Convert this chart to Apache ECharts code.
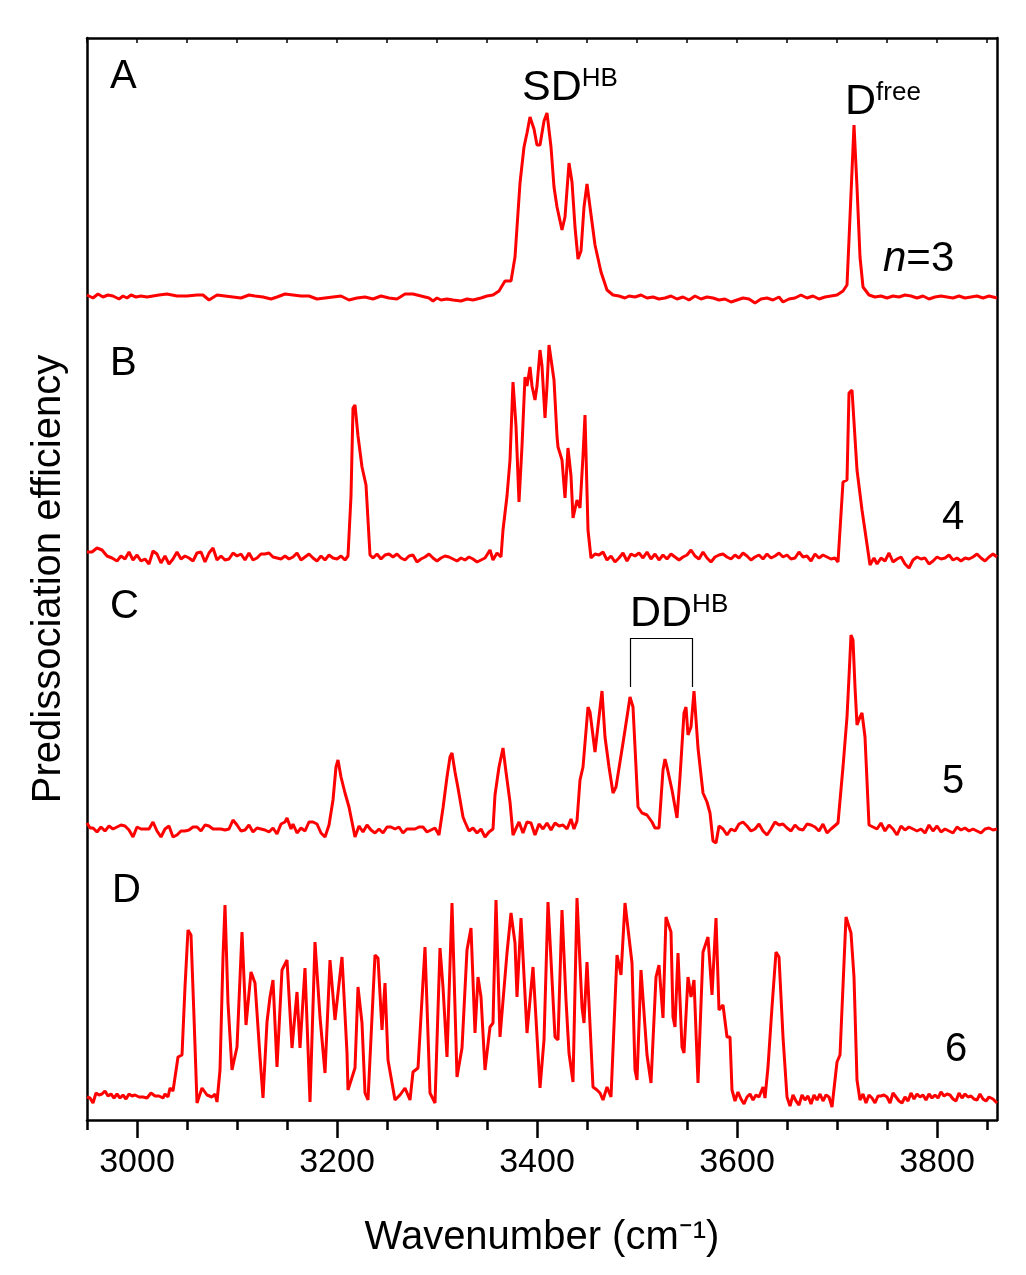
<!DOCTYPE html>
<html>
<head>
<meta charset="utf-8">
<title>Predissociation spectra</title>
<script src="https://cdn.jsdelivr.net/npm/echarts@6/dist/echarts.min.js"></script>
<style>
  body { margin: 0; background: #fff; }
  #main { width: 1026px; height: 1275px; }
</style>
</head>
<body>
<div id="main"></div>
<script>
// [wavenumber, height above own baseline]
var traceA = [
  [2950,2],[2956,-1],[2961,3],[2966,0],[2971,2],[2976,1],[2982,-2],[2986,1],[2990,-1],[2994,2],[2999,0],[3004,1],
  [3010,0],[3016,1],[3022,2],[3030,3],[3040,1],[3050,1],[3060,2],[3066,2],[3072,-3],[3080,2],[3088,1],[3096,0],
  [3104,-1],[3112,2],[3118,1],[3126,0],[3134,-2],[3140,0],[3148,3],[3156,2],[3164,1],[3172,1],[3180,-2],[3188,-1],
  [3196,0],[3204,1],[3212,-3],[3220,-1],[3228,0],[3236,-2],[3244,1],[3252,-1],[3260,-2],[3268,3],[3276,3],[3284,1],
  [3292,-1],[3296,-4],[3300,-1],[3304,-3],[3310,-2],[3316,-3],[3324,-4],[3330,-2],[3336,-3],[3344,-1],[3350,1],
  [3356,2],[3362,6],[3368,16],[3374,16],[3378,40],[3383,114],[3387,150],[3390,164],[3393,180],[3397,168],[3400,152],
  [3403,152],[3407,176],[3410,184],[3414,150],[3417,110],[3420,90],[3425,67],[3428,80],[3432,134],[3435,115],[3438,70],
  [3441,38],[3444,46],[3447,90],[3450,113],[3453,90],[3458,52],[3464,25],[3470,7],[3476,2],[3482,1],[3488,-1],
  [3492,1],[3498,0],[3504,2],[3510,-1],[3516,0],[3522,-2],[3528,-1],[3534,1],[3540,-2],[3546,0],[3552,-3],[3558,1],
  [3564,-2],[3570,0],[3576,-1],[3582,-3],[3588,-2],[3594,-5],[3600,-3],[3606,-1],[3612,-2],[3618,-6],[3624,-2],
  [3630,-1],[3636,-3],[3642,0],[3646,-5],[3652,-2],[3658,-1],[3664,2],[3670,-1],[3676,1],[3682,-2],[3688,0],
  [3694,1],[3700,2],[3706,6],[3710,12],[3713,80],[3717,172],[3720,110],[3723,40],[3726,10],[3732,2],[3738,0],
  [3744,1],[3750,-1],[3756,1],[3762,0],[3768,2],[3774,1],[3780,-1],[3786,1],[3792,-2],[3798,0],[3804,1],[3810,0],
  [3816,-1],[3822,1],[3828,-1],[3834,0],[3840,1],[3846,-1],[3852,1],[3860,-1]
];
var traceB = [
  [2950,4],[2955,4],[2960,8],[2965,6],[2970,0],[2975,-2],[2980,-5],[2984,0],[2988,-3],[2992,4],[2996,-4],[3000,1],
  [3004,-5],[3008,-3],[3012,-8],[3016,5],[3020,2],[3024,-7],[3028,0],[3032,-8],[3036,-3],[3040,4],[3044,-3],
  [3048,0],[3052,-2],[3056,-5],[3060,3],[3064,4],[3068,-6],[3072,3],[3076,8],[3080,-4],[3084,0],[3088,-4],
  [3092,-3],[3096,3],[3100,0],[3104,2],[3108,-4],[3112,3],[3116,-4],[3120,-2],[3124,2],[3128,2],[3132,3],
  [3136,-1],[3140,-2],[3144,-3],[3148,0],[3152,-3],[3156,-1],[3160,3],[3164,-4],[3168,-1],[3172,2],[3176,-2],
  [3180,-5],[3184,0],[3188,-4],[3192,1],[3196,-2],[3200,-3],[3204,0],[3208,-4],[3211,0],[3214,60],[3216,148],
  [3218,151],[3221,120],[3225,89],[3229,71],[3233,1],[3236,-2],[3240,2],[3244,-3],[3248,1],[3252,2],[3256,-1],
  [3260,2],[3264,-2],[3268,-4],[3272,0],[3276,1],[3280,-6],[3284,-3],[3288,-1],[3292,2],[3296,-2],[3300,-5],
  [3304,-2],[3308,0],[3312,-1],[3316,-3],[3320,-5],[3324,-2],[3328,-4],[3332,-1],[3336,-3],[3340,-6],[3344,-4],
  [3348,-2],[3353,6],[3356,-4],[3360,3],[3364,-1],[3366,26],[3370,60],[3373,96],[3376,174],[3379,130],[3382,54],
  [3385,110],[3388,179],[3390,170],[3393,189],[3395,170],[3398,156],[3400,170],[3403,206],[3405,190],[3408,138],
  [3410,170],[3412,211],[3415,190],[3417,176],[3420,120],[3421,109],[3425,96],[3428,58],[3431,108],[3434,80],
  [3436,38],[3440,56],[3443,48],[3446,100],[3448,141],[3451,26],[3454,-2],[3458,2],[3462,1],[3466,4],[3470,-4],
  [3474,0],[3478,-6],[3482,-2],[3486,3],[3490,-5],[3494,2],[3498,0],[3502,3],[3506,-2],[3510,4],[3514,-3],
  [3518,2],[3522,-4],[3526,1],[3530,-3],[3534,2],[3538,-1],[3542,-4],[3546,-1],[3550,1],[3554,6],[3558,0],
  [3562,-3],[3566,4],[3570,-2],[3574,-6],[3578,-1],[3582,1],[3586,2],[3590,-1],[3594,-3],[3598,1],[3602,-2],
  [3606,3],[3610,0],[3614,-4],[3618,-1],[3622,1],[3626,-3],[3630,2],[3634,-2],[3638,0],[3642,3],[3646,-1],
  [3650,1],[3654,-3],[3658,-2],[3662,4],[3666,-1],[3670,0],[3674,-5],[3678,2],[3682,-2],[3686,1],[3690,-1],
  [3694,-3],[3698,-2],[3701,-6],[3706,74],[3710,76],[3712,163],[3715,166],[3720,86],[3725,46],[3733,-9],
  [3737,-2],[3740,-8],[3744,-2],[3748,-5],[3752,3],[3756,-6],[3760,-3],[3764,-1],[3768,-8],[3772,-12],[3776,-4],
  [3780,-1],[3784,-3],[3788,-2],[3792,-8],[3796,-5],[3800,-1],[3804,-3],[3808,-2],[3812,1],[3816,-4],[3820,-2],
  [3824,-5],[3828,-2],[3832,-3],[3836,-1],[3840,2],[3844,-2],[3848,-5],[3852,-1],[3856,2],[3860,-1]
];
var traceC = [
  [2950,4],[2953,-1],[2956,-1],[2960,-5],[2964,0],[2968,-4],[2972,1],[2976,-2],[2980,0],[2984,2],[2988,1],[2992,-3],
  [2996,-10],[3000,0],[3004,-2],[3008,-2],[3012,-2],[3016,5],[3020,-4],[3024,-10],[3028,-2],[3032,1],[3036,-10],
  [3040,-8],[3044,-4],[3048,-4],[3052,-3],[3056,0],[3060,0],[3064,-4],[3068,2],[3072,1],[3076,-2],[3080,-2],
  [3084,-2],[3088,-3],[3092,-2],[3096,7],[3100,2],[3104,-4],[3108,-3],[3112,2],[3116,-5],[3120,-1],[3124,-2],
  [3128,-3],[3132,-5],[3136,-1],[3140,-7],[3144,3],[3148,5],[3150,9],[3154,-2],[3156,3],[3160,-6],[3164,-1],
  [3168,-4],[3172,5],[3176,5],[3180,3],[3184,-6],[3188,-10],[3192,2],[3196,27],[3199,60],[3201,67],[3204,50],
  [3208,34],[3212,20],[3215,5],[3218,-10],[3222,1],[3226,-5],[3230,2],[3234,-3],[3238,-6],[3242,-2],[3246,-6],
  [3250,0],[3254,0],[3258,-2],[3262,0],[3266,-6],[3270,-2],[3274,-2],[3278,-2],[3282,0],[3286,0],[3290,-5],
  [3294,-3],[3298,-1],[3302,-8],[3306,19],[3310,50],[3313,70],[3315,74],[3318,55],[3321,39],[3326,10],[3328,5],
  [3332,-4],[3336,-1],[3340,-6],[3344,-2],[3348,-10],[3352,-5],[3356,-2],[3358,32],[3362,60],[3366,79],
  [3369,55],[3373,25],[3376,-8],[3378,-8],[3382,5],[3386,-6],[3390,5],[3394,4],[3398,-8],[3402,3],[3406,-2],
  [3410,4],[3414,-3],[3418,4],[3422,1],[3426,2],[3430,-2],[3434,8],[3437,-2],[3440,6],[3443,47],[3446,60],
  [3451,120],[3453,115],[3458,75],[3462,110],[3465,136],[3468,90],[3472,60],[3476,34],[3479,40],[3486,84],
  [3490,110],[3493,130],[3496,120],[3501,20],[3505,14],[3510,12],[3515,5],[3518,-1],[3522,-1],[3526,57],
  [3528,68],[3530,60],[3535,37],[3540,9],[3543,50],[3547,114],[3549,120],[3551,92],[3554,100],[3557,136],
  [3561,79],[3566,34],[3570,25],[3573,14],[3576,-14],[3579,-16],[3582,1],[3586,-2],[3590,-8],[3594,-2],
  [3598,-4],[3602,3],[3606,5],[3610,1],[3614,-4],[3618,-2],[3622,3],[3626,-4],[3630,-8],[3634,-2],[3638,5],
  [3642,2],[3646,3],[3650,-1],[3654,-4],[3658,2],[3662,-2],[3666,-3],[3670,3],[3674,2],[3678,0],[3682,-4],
  [3686,3],[3690,-6],[3694,-2],[3701,4],[3706,60],[3710,110],[3712,150],[3714,192],[3716,187],[3718,140],
  [3720,102],[3723,110],[3725,114],[3728,90],[3732,2],[3736,0],[3740,-2],[3744,4],[3748,-4],[3752,2],[3756,-2],
  [3760,-8],[3764,1],[3768,-3],[3772,0],[3776,-2],[3780,-4],[3784,-2],[3788,-6],[3792,2],[3796,-4],[3800,1],
  [3804,-5],[3808,-2],[3812,-4],[3816,-6],[3820,0],[3824,-3],[3828,-1],[3832,-4],[3836,-2],[3840,-4],[3844,-6],
  [3848,-2],[3852,-1],[3856,-3],[3860,-2]
];
var traceD = [
  [2950,0],[2953,-1],[2956,-6],[2959,4],[2962,2],[2965,3],[2968,6],[2971,1],[2974,3],[2977,-1],[2980,3],[2983,-1],
  [2986,2],[2989,-2],[2992,3],[2995,1],[2998,2],[3002,0],[3006,0],[3010,-1],[3014,4],[3018,1],[3022,1],[3026,-1],
  [3028,3],[3031,0],[3033,9],[3036,6],[3041,40],[3045,42],[3048,110],[3051,167],[3054,162],[3057,80],[3060,-6],
  [3065,9],[3070,2],[3075,0],[3078,3],[3080,-5],[3083,27],[3086,140],[3088,192],[3091,94],[3095,27],[3100,50],
  [3105,165],[3109,72],[3114,125],[3118,114],[3120,114],[3123,40],[3126,-1],[3130,75],[3133,100],[3136,117],
  [3140,30],[3145,127],[3147,127],[3150,137],[3155,49],[3160,105],[3163,49],[3168,129],[3173,-5],[3178,155],
  [3183,80],[3188,24],[3193,137],[3195,138],[3198,77],[3205,140],[3210,44],[3211,7],[3218,29],[3221,110],
  [3225,74],[3228,4],[3231,-3],[3238,142],[3241,139],[3245,67],[3248,114],[3251,37],[3258,-3],[3263,2],
  [3268,9],[3273,-3],[3276,25],[3281,29],[3288,150],[3293,4],[3298,-6],[3303,149],[3306,110],[3310,40],
  [3315,194],[3320,20],[3325,49],[3330,147],[3334,169],[3338,64],[3341,120],[3344,100],[3348,27],[3353,70],
  [3356,74],[3359,197],[3363,60],[3370,144],[3374,184],[3378,154],[3380,100],[3384,179],[3390,64],[3396,130],
  [3403,9],[3407,57],[3411,195],[3418,60],[3421,57],[3425,187],[3429,97],[3432,44],[3436,15],[3440,199],
  [3445,90],[3447,74],[3450,135],[3456,10],[3460,7],[3463,4],[3466,-3],[3470,10],[3474,0],[3480,142],[3484,122],
  [3488,194],[3495,134],[3498,27],[3500,17],[3504,127],[3510,42],[3514,14],[3519,120],[3522,132],[3526,79],
  [3529,180],[3534,165],[3536,80],[3538,70],[3541,144],[3545,50],[3547,44],[3551,120],[3554,100],[3557,117],
  [3561,14],[3566,145],[3571,160],[3575,102],[3579,179],[3582,87],[3586,92],[3590,60],[3593,60],[3595,7],
  [3598,-4],[3601,5],[3604,-2],[3607,-7],[3610,0],[3613,3],[3616,-3],[3619,2],[3622,0],[3626,10],[3628,-1],
  [3631,30],[3635,90],[3639,145],[3642,140],[3646,60],[3650,0],[3653,-9],[3656,2],[3659,-4],[3662,-8],[3665,2],
  [3668,-3],[3671,1],[3674,-7],[3677,2],[3680,-3],[3683,3],[3686,-4],[3689,2],[3692,0],[3695,-10],[3700,35],
  [3703,42],[3709,180],[3714,164],[3717,120],[3720,17],[3723,-3],[3726,3],[3729,-6],[3732,2],[3735,-1],
  [3738,-6],[3741,1],[3744,1],[3747,2],[3750,0],[3753,-6],[3756,4],[3759,0],[3762,-4],[3765,-6],[3768,0],
  [3771,-4],[3774,4],[3777,-2],[3780,3],[3783,0],[3786,2],[3789,-3],[3792,3],[3795,-1],[3798,2],[3801,-1],
  [3804,5],[3807,1],[3810,3],[3813,2],[3816,-2],[3819,-4],[3822,4],[3825,-1],[3828,3],[3831,0],[3834,1],
  [3837,-2],[3840,-3],[3843,3],[3846,-2],[3849,-4],[3852,0],[3856,-2],[3860,-6]
];
var baselines = [823, 564, 293, 23];
var traces = [traceA, traceB, traceC, traceD];
var majorTicks = [3000, 3200, 3400, 3600, 3800];
var minorTicks = [2950,3050,3100,3150,3250,3300,3350,3450,3500,3550,3650,3700,3750,3850];

var FONT = 'Liberation Sans';
var chart = echarts.init(document.getElementById('main'));

var series = traces.map(function (t, i) {
  return {
    type: 'line', showSymbol: false, silent: true,
    data: t.map(function (p) { return [p[0], p[1] + baselines[i]]; }),
    lineStyle: { color: '#ff0000', width: 3 },
    itemStyle: { color: '#ff0000' }
  };
});
// DD^HB bracket on trace C
series[2].markLine = {
  silent: true, symbol: 'none', label: { show: false },
  lineStyle: { color: '#000', width: 1.2, type: 'solid' },
  data: [
    [{ coord: [3493, 433] }, { coord: [3493, 482] }],
    [{ coord: [3493, 482] }, { coord: [3555, 482] }],
    [{ coord: [3555, 482] }, { coord: [3555, 433] }]
  ]
};

function txt(x, y, s) {
  return { type: 'text', left: x, top: y,
    style: { text: s, font: '40px "' + FONT + '"', fill: '#000' } };
}
function sup(x, y, base, up) {
  return { type: 'text', left: x, top: y, style: {
    text: '{b|' + base + '}{s|' + up + '}',
    rich: { b: { fontFamily: FONT, fontSize: 43, verticalAlign: 'bottom' },
            s: { fontFamily: FONT, fontSize: 26, verticalAlign: 'top', padding: [0, 0, 18, 0] } } } };
}

chart.setOption({
  backgroundColor: '#fff',
  animation: false,
  grid: { left: 87, right: 29, top: 38, bottom: 155 },
  xAxis: [
    { type: 'value', min: 2950, max: 3860, position: 'bottom',
      axisLine: { lineStyle: { color: '#000', width: 2.5 } },
      axisTick: { inside: false, length: 18, customValues: majorTicks, lineStyle: { color: '#000', width: 2.5 } },
      axisLabel: { customValues: majorTicks, fontFamily: FONT, fontSize: 34, color: '#000', margin: 26,
                   formatter: function (v) { return String(v); } },
      splitLine: { show: false },
      name: 'Wavenumber (cm\u207B\u00B9)', nameLocation: 'middle', nameGap: 98,
      nameTextStyle: { fontFamily: FONT, fontSize: 40, color: '#000' } },
    { type: 'value', min: 2950, max: 3860, position: 'bottom', gridIndex: 0,
      axisLine: { show: false },
      axisTick: { length: 10, customValues: minorTicks, lineStyle: { color: '#000', width: 2.5 } },
      axisLabel: { show: false }, splitLine: { show: false } },
    { type: 'value', min: 2950, max: 3860, position: 'top',
      axisLine: { lineStyle: { color: '#000', width: 2.5 } },
      axisTick: { inside: true, length: 5, customValues: majorTicks.concat(minorTicks), lineStyle: { color: '#000', width: 1.5 } },
      axisLabel: { show: false }, splitLine: { show: false } }
  ],
  yAxis: [
    { type: 'value', min: 0, max: 1082, position: 'left',
      axisLine: { show: true, lineStyle: { color: '#000', width: 2.5 } },
      axisTick: { show: false }, axisLabel: { show: false }, splitLine: { show: false },
      name: 'Predissociation efficiency', nameLocation: 'middle', nameGap: 18,
      nameTextStyle: { fontFamily: FONT, fontSize: 40, color: '#000' } },
    { type: 'value', min: 0, max: 1082, position: 'right',
      axisLine: { show: true, lineStyle: { color: '#000', width: 2.5 } },
      axisTick: { show: false }, axisLabel: { show: false }, splitLine: { show: false } }
  ],
  series: series,
  graphic: [
    txt(110, 57, 'A'), txt(110, 344, 'B'), txt(110, 587, 'C'), txt(112, 871, 'D'),
    sup(522, 66, 'SD', 'HB'), sup(845, 80, 'D', 'free'), sup(630, 592, 'DD', 'HB'),
    { type: 'text', left: 883, top: 238, style: {
        text: '{i|n}{r|=3}',
        rich: { i: { fontFamily: FONT, fontSize: 42, fontStyle: 'italic' }, r: { fontFamily: FONT, fontSize: 42 } } } },
    txt(942, 498, '4'), txt(942, 762, '5'), txt(945, 1030, '6')
  ]
});
</script>
</body>
</html>
